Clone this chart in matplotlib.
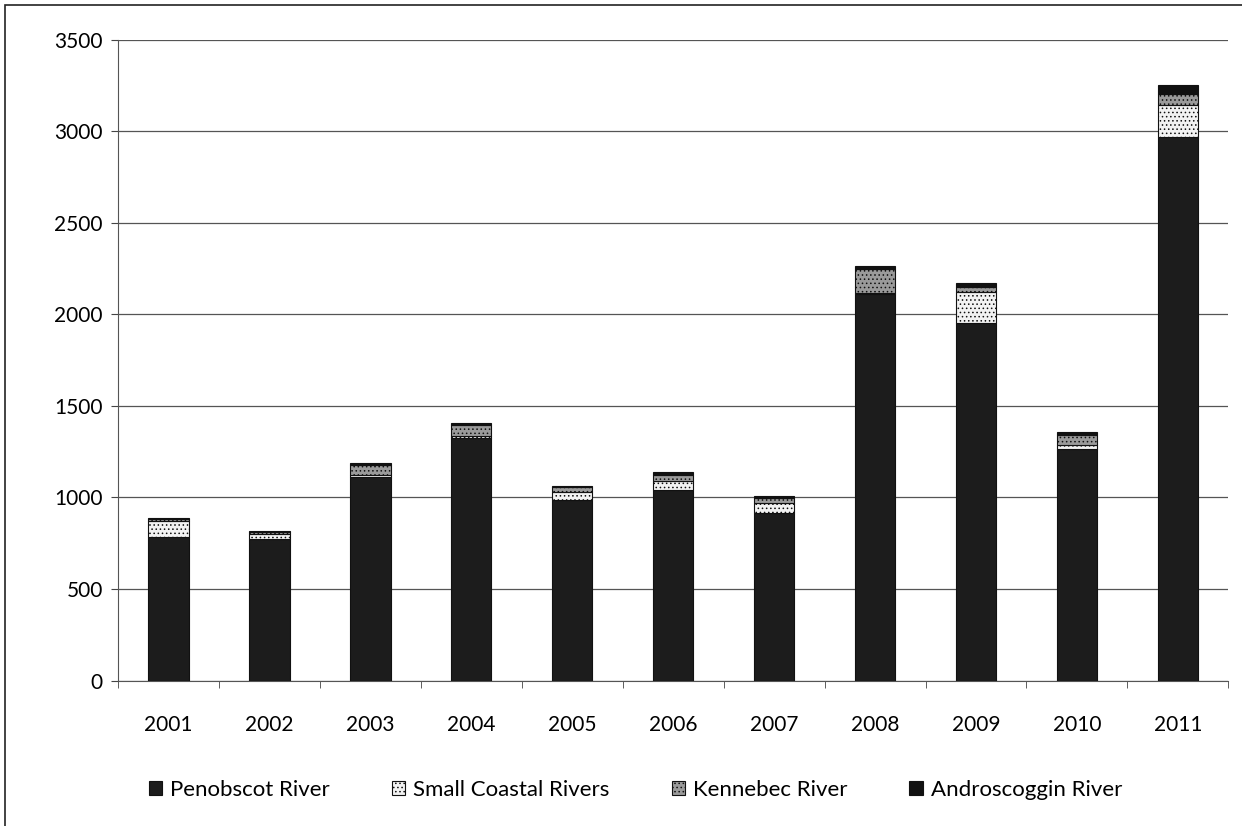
import numpy as np
import matplotlib.pyplot as plt
from matplotlib.patches import Rectangle

years = ['2001', '2002', '2003', '2004', '2005', '2006', '2007', '2008', '2009', '2010', '2011']
penobscot = [785, 775, 1110, 1325, 988, 1040, 915, 2110, 1955, 1265, 2970]
small_coastal = [85, 25, 15, 10, 40, 50, 55, 5, 165, 20, 175]
kennebec = [15, 10, 55, 60, 30, 35, 25, 130, 30, 55, 60]
androscoggin = [5, 5, 7, 10, 6, 12, 12, 20, 20, 15, 45]

series = [
    ('Penobscot River', penobscot, '#1c1c1c', None),
    ('Small Coastal Rivers', small_coastal, '#f2f2f2', '....'),
    ('Kennebec River', kennebec, '#9a9a9a', '....'),
    ('Androscoggin River', androscoggin, '#111111', None),
]

plt.rcParams['font.family'] = ['Lato', 'DejaVu Sans']
plt.rcParams['hatch.color'] = '#555555'
plt.rcParams['hatch.linewidth'] = 0.6

fig = plt.figure(figsize=(12.42, 8.26), dpi=100)
ax = fig.add_axes([0.095, 0.176, 0.894, 0.776])

x = np.arange(len(years))
bottom = np.zeros(len(years))
for name, vals, color, hatch in series:
    ax.bar(x, vals, width=0.4, bottom=bottom, color=color, hatch=hatch,
           edgecolor='#111111', linewidth=0.8, label=name, zorder=3)
    bottom += np.array(vals)

ax.set_ylim(0, 3500)
ax.set_xlim(-0.5, len(years) - 0.5)
ax.set_yticks(np.arange(0, 3501, 500))
ax.set_xticks(x)
ax.set_xticklabels(years)
ax.set_xticks(np.arange(-0.5, len(years), 1), minor=True)
ax.tick_params(axis='x', which='major', length=0, labelsize=15, pad=25)
ax.tick_params(axis='x', which='minor', length=5, direction='out', color='#444444')
ax.tick_params(axis='y', length=5, direction='out', labelsize=15, color='#444444', pad=6)
ax.grid(axis='y', color='#555555', linewidth=0.9, zorder=0)

for side in ['top', 'right']:
    ax.spines[side].set_visible(False)
ax.spines['left'].set_color('#555555')
ax.spines['bottom'].set_color('#555555')

ax.legend(loc='upper center', bbox_to_anchor=(0.466, -0.124), ncol=4, frameon=False,
          fontsize=16, handlelength=0.6, handleheight=0.6, columnspacing=2.8,
          handletextpad=0.35)

fig.patches.append(Rectangle((0.004, -0.01), 1.1, 1.004, transform=fig.transFigure,
                             fill=False, edgecolor='#222222', linewidth=1.2))

fig.savefig('out.png', dpi=100)
